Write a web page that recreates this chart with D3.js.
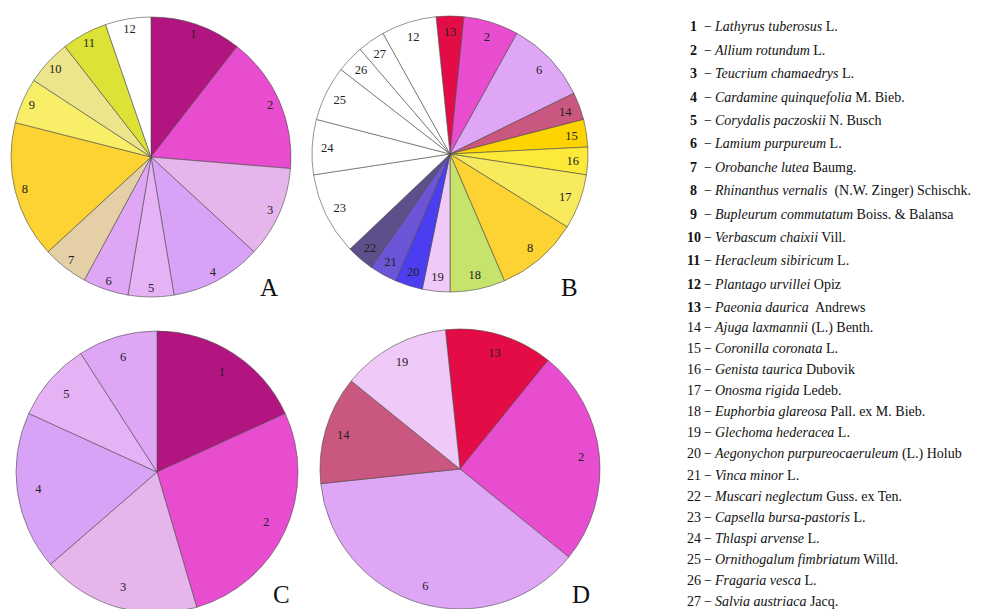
<!DOCTYPE html>
<html>
<head>
<meta charset="utf-8">
<script src="https://cdn.jsdelivr.net/npm/d3@7"></script>
<style>
  html, body { margin: 0; padding: 0; background: #ffffff; }
  svg { display: block; }
</style>
</head>
<body>
<svg id="chart" width="982" height="609"></svg>
<script>
// ---- DATA ----
const speciesIds = [1,2,3,4,5,6,7,8,9,10,11,12,13,14,15,16,17,18,19,20,21,22,23,24,25,26,27];
const speciesNames = [
  "Lathyrus tuberosus", "Allium rotundum", "Teucrium chamaedrys", "Cardamine quinquefolia",
  "Corydalis paczoskii", "Lamium purpureum", "Orobanche lutea", "Rhinanthus vernalis",
  "Bupleurum commutatum", "Verbascum chaixii", "Heracleum sibiricum", "Plantago urvillei",
  "Paeonia daurica", "Ajuga laxmannii", "Coronilla coronata", "Genista taurica",
  "Onosma rigida", "Euphorbia glareosa", "Glechoma hederacea", "Aegonychon purpureocaeruleum",
  "Vinca minor", "Muscari neglectum", "Capsella bursa-pastoris", "Thlaspi arvense",
  "Ornithogalum fimbriatum", "Fragaria vesca", "Salvia austriaca"
];
const speciesAuthors = [
  "L.", "L.", "L.", "M. Bieb.", "N. Busch", "L.", "Baumg.", " (N.W. Zinger) Schischk.",
  "Boiss. & Balansa", "Vill.", "L.", "Opiz", " Andrews", "(L.) Benth.", "L.", "Dubovik",
  "Ledeb.", "Pall. ex M. Bieb.", "L.", "(L.) Holub", "L.", "Guss. ex Ten.", "L.", "L.",
  "Willd.", "L.", "Jacq."
];
const speciesColors = [
  "#b31580", "#e84dcf", "#e6b5ec", "#d8a2f7", "#e6b2f6", "#e0a6f6", "#e4cfa6", "#fcd332",
  "#f8ee68", "#ece58c", "#dde237", "#ffffff", "#e30c46", "#c9577f", "#fed400", "#fde93a",
  "#f7ea5c", "#c6e46c", "#efc9f7", "#4b3ef0", "#6b55d6", "#5c4f8a", "#ffffff", "#ffffff",
  "#ffffff", "#ffffff", "#ffffff"
];

const pieLabels = ["A", "B", "C", "D"];
const pieAIds = [1,2,3,4,5,6,7,8,9,10,11,12];
const pieAValues = [2,3,2,2,1,1,1,3,1,1,1,1];
const pieBIds = [13,2,6,14,15,16,17,8,18,19,20,21,22,23,24,25,26,27,12];
const pieBValues = [1,2,3,1,1,1,2,3,2,1,1,1,1,3,2,2,1,1,2];
const pieCIds = [1,2,3,4,5,6];
const pieCValues = [2,3,2,2,1,1];
const pieDIds = [13,2,6,14,19];
const pieDValues = [1,2,3,1,1];

// ---- LAYOUT ----
const svg = d3.select("#chart");
const FONT = "'Liberation Serif', 'Times New Roman', serif";
const colorScale = d3.scaleOrdinal().domain(speciesIds).range(speciesColors);

const pies = [
  { ids: pieAIds, values: pieAValues, cx: 151, cy: 157, r: 140, start: 0, lr: 0.93, letter: pieLabels[0], lx: 260, ly: 296 },
  { ids: pieBIds, values: pieBValues, cx: 450, cy: 154, r: 138, start: -Math.PI / 31, lr: 0.89, letter: pieLabels[1], lx: 561, ly: 296 },
  { ids: pieCIds, values: pieCValues, cx: 157, cy: 472, r: 141, start: 0, lr: 0.85, letter: pieLabels[2], lx: 273, ly: 603 },
  { ids: pieDIds, values: pieDValues, cx: 460, cy: 469, r: 140, start: -6 * Math.PI / 180, lr: 0.87, letter: pieLabels[3], lx: 572, ly: 603 }
];

pies.forEach(p => {
  const data = p.ids.map((id, i) => ({ id, value: p.values[i] }));
  const pie = d3.pie().sort(null).value(d => d.value)
    .startAngle(p.start).endAngle(p.start + 2 * Math.PI);
  const arcs = pie(data);
  const arc = d3.arc().innerRadius(0).outerRadius(p.r);
  const labelArc = d3.arc().innerRadius(p.r * p.lr).outerRadius(p.r * p.lr);
  const g = svg.append("g").attr("transform", `translate(${p.cx},${p.cy})`);

  g.selectAll("path.slice").data(arcs).enter().append("path")
    .attr("class", "slice")
    .attr("d", arc)
    .attr("fill", d => colorScale(d.data.id))
    .attr("stroke", "#4a4a4a")
    .attr("stroke-width", 0.6)
    .attr("stroke-linejoin", "round");

  g.selectAll("text.lbl").data(arcs).enter().append("text")
    .attr("class", "lbl")
    .attr("transform", d => `translate(${labelArc.centroid(d)})`)
    .attr("text-anchor", "middle")
    .attr("dy", "0.35em")
    .attr("font-family", FONT)
    .attr("font-size", 12.5)
    .attr("fill", "#222")
    .text(d => d.data.id);

  svg.append("text")
    .attr("x", p.lx).attr("y", p.ly)
    .attr("font-family", FONT)
    .attr("font-size", 25)
    .attr("fill", "#111")
    .text(p.letter);
});

// ---- LEGEND ----
const legend = svg.append("g");
const legendY = i => i < 13 ? 26.5 + 23.4 * i : 326.7 + 21.15 * (i - 13);
speciesIds.forEach((id, i) => {
  const y = legendY(i) + 4.8;
  legend.append("text")
    .attr("x", id < 10 ? 690 : 687).attr("y", y)
    .attr("font-family", FONT).attr("font-size", 14)
    .attr("font-weight", i < 13 ? "bold" : "normal")
    .attr("fill", "#111")
    .text(id);
  legend.append("text")
    .attr("x", 704).attr("y", y)
    .attr("font-family", FONT).attr("font-size", 14)
    .attr("fill", "#111")
    .text("\u2212");
  const t = legend.append("text")
    .attr("x", 715).attr("y", y)
    .attr("font-family", FONT).attr("font-size", 14)
    .attr("fill", "#111");
  t.append("tspan").attr("font-style", "italic").text(speciesNames[i]);
  t.append("tspan").style("white-space", "pre").text(" " + speciesAuthors[i]);
});
</script>
</body>
</html>
